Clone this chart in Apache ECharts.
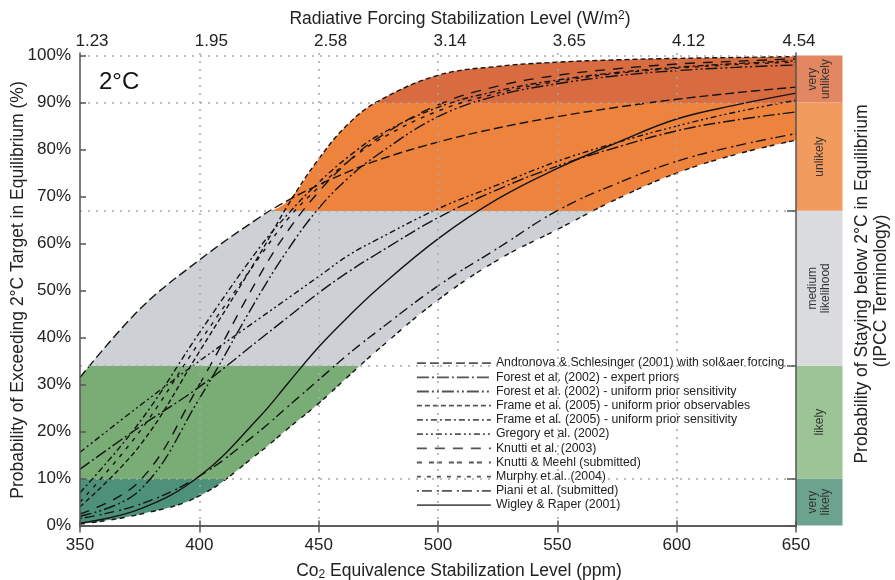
<!DOCTYPE html>
<html><head><meta charset="utf-8">
<script src="https://cdn.jsdelivr.net/npm/echarts@6/dist/echarts.min.js"></script>
<style>html,body{margin:0;padding:0;background:#fff}#c{width:895px;height:580px}</style>
</head><body><div id="c"></div>
<script>
// ---------- data ----------
const ppm = [350, 375, 400, 425, 437.5, 450, 462.5, 475, 500, 525, 550, 575, 600, 625, 650];
const xTicks = [350, 400, 450, 500, 550, 600, 650];
const topLabels = ['1.23', '1.95', '2.58', '3.14', '3.65', '4.12', '4.54'];
const yTicks = [0, 10, 20, 30, 40, 50, 60, 70, 80, 90, 100];
const bandEdges = [0, 10, 34, 67, 90, 100];
const bandNames = ['very\nlikely', 'likely', 'medium\nlikelihood', 'unlikely', 'very\nunlikely'];

const andronova     = [31.5, 46, 56.5, 65.5, 69.3, 72.5, 75.3, 77.8, 81.6, 84.6, 87, 89, 90.7, 92.1, 93.3];
const forestExpert  = [12, 21, 29.5, 39.5, 44.5, 49.5, 54, 58, 65.5, 71.5, 76.5, 80.5, 84, 86.3, 88];
const forestUniform = [2, 7.5, 27, 49, 59, 67.5, 74, 79, 87, 91.5, 94, 95.7, 96.8, 97.5, 98];
const frameObs      = [4, 17, 37, 57.5, 68.5, 78, 85.5, 90.3, 95.8, 97.7, 98.6, 99.1, 99.4, 99.6, 99.8];
const frameSens     = [7, 22, 41, 59, 66.5, 73, 78.5, 83, 89, 92.5, 94.8, 96.4, 97.5, 98.3, 98.9];
const gregory       = [15.6, 25.5, 35, 44, 48.5, 53, 57.5, 61, 67.4, 72.5, 77.5, 81.5, 85, 88, 90.5];
const knutti03      = [2.5, 9.5, 30, 53, 63, 71, 77.5, 82.5, 89.5, 93.5, 95.8, 97.2, 98.2, 98.8, 99.3];
const knuttiMeehl   = [0.3, 2.4, 6.3, 15.5, 20.8, 26, 31.8, 37.5, 48, 56.5, 63, 69.5, 75, 79, 82];
const murphy        = [5, 20, 39, 57, 65.5, 72, 77.5, 82, 88.2, 92, 94.5, 96.2, 97.3, 98.1, 98.6];
const piani         = [1.5, 4.5, 10.5, 20, 25.5, 31, 36.5, 41.5, 51, 59, 67, 72.8, 77.5, 80.8, 83.4];
const wigley        = [0.5, 3.5, 10.5, 23, 30.5, 38, 44.5, 50.5, 61, 69.5, 76, 81.5, 86.5, 89.5, 92];

const curveNames = [
  'Andronova & Schlesinger (2001) with sol&aer forcing',
  'Forest et al. (2002) - expert priors',
  'Forest et al. (2002) - uniform prior sensitivity',
  'Frame et al. (2005) - uniform prior observables',
  'Frame et al. (2005) - uniform prior sensitivity',
  'Gregory et al. (2002)',
  'Knutti et al. (2003)',
  'Knutti & Meehl (submitted)',
  'Murphy et al. (2004)',
  'Piani et al. (submitted)',
  'Wigley & Raper (2001)'
];
const curveValues = [andronova, forestExpert, forestUniform, frameObs, frameSens, gregory,
                     knutti03, knuttiMeehl, murphy, piani, wigley];

// ---------- styles ----------
const dashes = [
  [9, 4],
  [12, 3, 2, 3],
  [12, 3, 2, 3, 2, 3],
  [5, 3],
  [6, 3, 2, 3],
  [6, 3, 2, 3, 2, 3],
  [10, 8],
  [5, 7, 5, 3],
  [4, 6],
  [2, 3, 10, 5],
  'solid'
];
const bandFill = ['#4D917A', '#7AAD75', '#CDD0D4', '#EE833E', '#D96B40'];
const bandColumn = ['#6CA38F', '#9DC497', '#D9DBDF', '#F29B5F', '#E28762'];
const FONT = "'Liberation Sans', Arial, Helvetica, sans-serif";
const TXT = '#222';
const AX = '#555';
const YMIN = -0.3, YMAX = 100.55;

const envHigh = ppm.map((_, i) => Math.max(...curveValues.map(c => c[i])));
const envLow = ppm.map((_, i) => Math.min(...curveValues.map(c => c[i])));

const chart = echarts.init(document.getElementById('c'));

const series = [
  { // envelope: upper bound filled with the band colours
    type: 'line', name: 'envHigh', symbol: 'none', smooth: 0.4, silent: true, z: 1,
    data: ppm.map((x, i) => [x, envHigh[i]]),
    lineStyle: { width: 0 },
    areaStyle: { opacity: 1 }
  },
  { // below the lower bound: white
    type: 'line', name: 'envLow', symbol: 'none', smooth: 0.4, silent: true, z: 2,
    data: ppm.map((x, i) => [x, envLow[i]]),
    lineStyle: { width: 0 },
    areaStyle: { color: '#ffffff', opacity: 1 }
  },
  { // dotted grid
    type: 'line', name: 'grid', symbol: 'none', silent: true, z: 3,
    data: ppm.map((x, i) => [x, envLow[i]]),
    lineStyle: { opacity: 0 },
    markLine: {
      silent: true, symbol: ['none', 'none'], label: { show: false },
      lineStyle: { type: [2, 6], color: '#a8a8a8', width: 1.5, opacity: 1 },
      data: [10, 34, 67, 90, 100, 0].map(v => ({ yAxis: v }))
        .concat(xTicks.slice(1, -1).map(v => ({ xAxis: v })))
    }
  }
];
curveNames.forEach((n, k) => {
  series.push({
    type: 'line', name: n, symbol: 'none', smooth: 0.4, z: 4, silent: true,
    data: ppm.map((x, i) => [x, curveValues[k][i]]),
    lineStyle: { color: '#141414', width: 1.4, type: dashes[k] }
  });
});
bandNames.forEach((n, k) => {
  series.push({
    type: 'bar', name: 'band' + k, stack: 'band', xAxisIndex: 2, yAxisIndex: 2,
    barWidth: '100%', silent: true,
    data: [bandEdges[k + 1] - bandEdges[k]],
    itemStyle: { color: bandColumn[k] },
    label: {
      show: true, position: 'inside', rotate: 90, formatter: n,
      fontSize: 12, lineHeight: 13, color: '#333', fontFamily: FONT
    }
  });
});

const option = {
  animation: false,
  backgroundColor: '#fff',
  grid: [
    { left: 80, right: 99, top: 53, bottom: 53, containLabel: false },
    { left: 796, width: 46.5, top: 53, bottom: 53, containLabel: false }
  ],
  xAxis: [
    {
      type: 'value', gridIndex: 0, min: 350, max: 650, interval: 50, position: 'bottom', z: 6,
      axisLine: { show: true, lineStyle: { color: AX, width: 1.5 } },
      axisTick: { show: true, inside: true, length: 5, lineStyle: { color: AX, width: 1.5 } },
      axisLabel: { fontSize: 17, color: TXT, fontFamily: FONT, margin: 10, showMinLabel: true, showMaxLabel: true },
      splitLine: { show: false }
    },
    {
      type: 'value', gridIndex: 0, min: 350, max: 650, interval: 50, position: 'top', z: 6,
      axisLine: { show: true, lineStyle: { color: AX, width: 1.5 } },
      axisTick: { show: true, inside: true, length: 7, lineStyle: { color: AX, width: 1.5 } },
      axisLabel: {
        margin: 3, showMinLabel: true, showMaxLabel: true,
        formatter: v => {
          const i = Math.round((v - 350) / 50);
          return (i === topLabels.length - 1 ? '{e|' : '{n|') + topLabels[i] + '}';
        },
        rich: {
          n: { fontSize: 17, color: TXT, fontFamily: FONT, padding: [0, 0, 0, 24] },
          e: { fontSize: 17, color: TXT, fontFamily: FONT, padding: [0, 0, 0, 6] }
        }
      },
      splitLine: { show: false }
    },
    { type: 'category', gridIndex: 1, data: ['band'], show: false }
  ],
  yAxis: [
    {
      type: 'value', gridIndex: 0, min: YMIN, max: YMAX, position: 'left', z: 6,
      axisLine: { show: true, lineStyle: { color: AX, width: 1.5 } },
      axisTick: { show: true, inside: true, length: 6, customValues: yTicks, lineStyle: { color: AX, width: 1.5 } },
      axisLabel: { customValues: yTicks, formatter: v => v + '%', fontSize: 17, color: TXT, fontFamily: FONT, margin: 9 },
      splitLine: { show: false }
    },
    {
      type: 'value', gridIndex: 0, min: YMIN, max: YMAX, position: 'right', z: 6,
      axisLine: { show: true, lineStyle: { color: AX, width: 1.5 } },
      axisTick: { show: true, inside: true, length: 9, customValues: bandEdges.slice(0, 4), lineStyle: { color: AX, width: 1.5 } },
      axisLabel: { show: false },
      splitLine: { show: false }
    },
    { type: 'value', gridIndex: 1, min: YMIN, max: YMAX, show: false }
  ],
  visualMap: {
    type: 'piecewise', show: false, seriesIndex: 0, dimension: 1,
    pieces: bandEdges.slice(0, -1).map((e, k) => ({
      gte: k === 0 ? -20 : e, lt: k === bandEdges.length - 2 ? 120 : bandEdges[k + 1], color: bandFill[k]
    }))
  },
  legend: {
    data: curveNames, orient: 'vertical', left: 416, top: 356, padding: 0,
    itemWidth: 74, itemHeight: 10, itemGap: 0, selectedMode: false,
    itemStyle: { opacity: 0 },
    lineStyle: { color: '#555', width: 1.8 },
    textStyle: { fontSize: 12.3, color: TXT, fontFamily: FONT, lineHeight: 14.2 }
  },
  graphic: [
    { type: 'text', x: 460, y: 19, style: {
      text: 'Radiative Forcing Stabilization Level (W/m{sup|2})', align: 'center', verticalAlign: 'middle',
      fontSize: 17.5, fontFamily: FONT, fill: TXT,
      rich: { sup: { fontSize: 12, fontFamily: FONT, fill: TXT, verticalAlign: 'top', padding: [0, 0, 6, 0] } } } },
    { type: 'text', x: 459, y: 571, style: {
      text: 'Co{sub|2} Equivalence Stabilization Level (ppm)', align: 'center', verticalAlign: 'middle',
      fontSize: 17.5, fontFamily: FONT, fill: TXT,
      rich: { sub: { fontSize: 12, fontFamily: FONT, fill: TXT, verticalAlign: 'bottom', padding: [7, 0, 0, 0] } } } },
    { type: 'text', x: 18.5, y: 290, rotation: Math.PI / 2, style: {
      text: 'Probability of Exceeding 2°C Target in Equilibrium (%)', align: 'center', verticalAlign: 'middle',
      fontSize: 17.5, fontFamily: FONT, fill: TXT } },
    { type: 'text', x: 862, y: 284, rotation: Math.PI / 2, style: {
      text: 'Probability of Staying below 2°C in Equilibrium', align: 'center', verticalAlign: 'middle',
      fontSize: 17.5, fontFamily: FONT, fill: TXT } },
    { type: 'text', x: 881, y: 291, rotation: Math.PI / 2, style: {
      text: '(IPCC Terminology)', align: 'center', verticalAlign: 'middle',
      fontSize: 17.5, fontFamily: FONT, fill: TXT } },
    { type: 'text', x: 99, y: 82, style: {
      text: '2°C', align: 'left', verticalAlign: 'middle', fontSize: 24, fontFamily: FONT, fill: '#111' } }
  ],
  series: series
};
chart.setOption(option);
</script>
</body></html>
